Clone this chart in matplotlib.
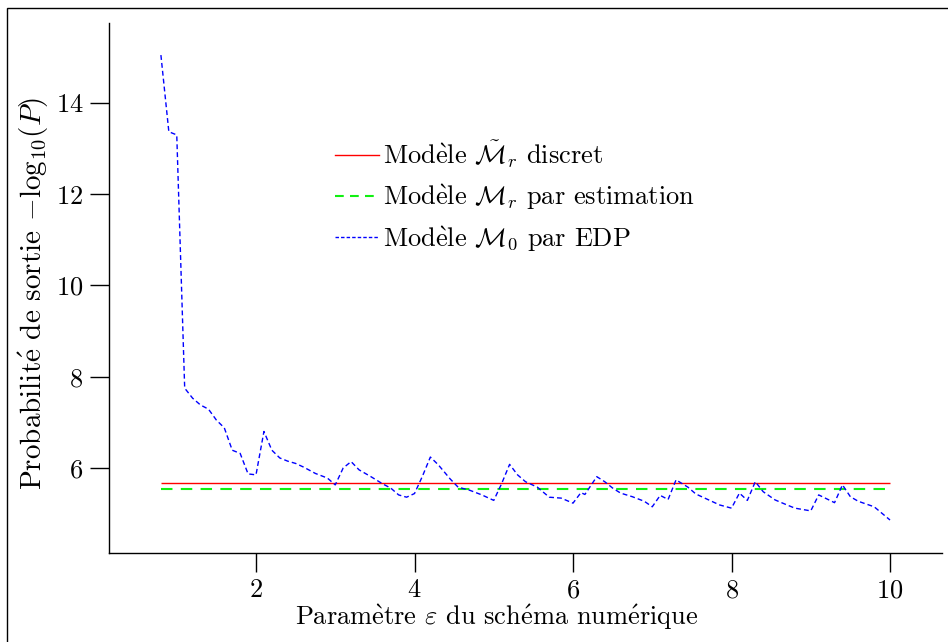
import matplotlib
matplotlib.use("Agg")
import matplotlib.pyplot as plt
from matplotlib.lines import Line2D
from matplotlib.patches import Rectangle

plt.rcParams['mathtext.fontset'] = 'cm'
plt.rcParams['font.family'] = ['cmr10', 'DejaVu Serif']
plt.rcParams['axes.formatter.use_mathtext'] = True

# Data
eps = [0.8, 0.9, 1.0, 1.1, 1.2, 1.3, 1.4, 1.5, 1.6, 1.7, 1.8, 1.9, 2.0, 2.1, 2.2,
       2.3, 2.4, 2.5, 2.6, 2.75, 2.9, 3.0, 3.1, 3.2, 3.3, 3.45, 3.6, 3.7, 3.8, 3.9,
       4.0, 4.1, 4.2, 4.3, 4.45, 4.55, 4.7, 4.85, 5.0, 5.1, 5.2, 5.3, 5.4, 5.55,
       5.7, 5.85, 6.0, 6.1, 6.15, 6.3, 6.4, 6.5, 6.6, 6.75, 6.9, 7.0, 7.1, 7.2,
       7.3, 7.45, 7.55, 7.7, 7.85, 8.0, 8.1, 8.2, 8.3, 8.4, 8.55, 8.7, 8.8, 9.0,
       9.1, 9.3, 9.4, 9.5, 9.6, 9.8, 10.0]
edp = [15.05, 13.37, 13.30, 7.75, 7.53, 7.38, 7.29, 7.05, 6.88, 6.39, 6.32, 5.87,
       5.85, 6.80, 6.39, 6.22, 6.15, 6.10, 6.02, 5.88, 5.78, 5.63, 6.00, 6.14,
       5.96, 5.81, 5.65, 5.56, 5.41, 5.36, 5.44, 5.82, 6.24, 6.07, 5.76, 5.58,
       5.51, 5.41, 5.29, 5.66, 6.08, 5.85, 5.70, 5.58, 5.36, 5.34, 5.23, 5.46,
       5.42, 5.81, 5.70, 5.56, 5.45, 5.37, 5.27, 5.15, 5.40, 5.31, 5.74, 5.58,
       5.43, 5.31, 5.19, 5.12, 5.45, 5.29, 5.70, 5.48, 5.30, 5.19, 5.12, 5.06,
       5.41, 5.24, 5.63, 5.37, 5.27, 5.15, 4.86]
eps_range = [0.8, 10.0]
discret = 5.67
estimation = 5.55
xticks = [2, 4, 6, 8, 10]
yticks = [6, 8, 10, 12, 14]

EGRAVE = r'$\grave{\mathrm{e}}$'
EACUTE = r'$\acute{\mathrm{e}}$'

W, H = 948, 642
FS = 19
RED, GREEN, BLUE = '#ff0000', '#11f011', '#0000ff'
fig = plt.figure(figsize=(W / 100, H / 100), dpi=100)
ax = fig.add_axes([109 / W, 1 - 553 / H, (942 - 109) / W, (553 - 23) / H])

ax.plot(eps_range, [discret, discret], color=RED, lw=1.0, solid_capstyle='butt')
ax.plot(eps_range, [estimation, estimation], color=GREEN, lw=1.5, dashes=(5.5, 4))
ax.plot(eps, edp, color=BLUE, lw=1.0, dashes=(3.5, 2.2))

ax.set_xlim(0.145, 10.656)
ax.set_ylim(4.137, 15.753)
ax.set_xticks(xticks)
ax.set_yticks(yticks)
ax.spines['top'].set_visible(False)
ax.spines['right'].set_visible(False)
for s in ('left', 'bottom'):
    ax.spines[s].set_linewidth(1.0)
ax.tick_params(direction='out', length=13.5, width=1.0, labelsize=FS, pad=5)

ax.set_xlabel('Param' + EGRAVE + r'tre $\varepsilon$ du sch' + EACUTE + 'ma num' + EACUTE + 'rique',
              fontsize=FS)
ax.xaxis.set_label_coords((497 - 109) / (942 - 109), -50 / 530)
ax.set_ylabel('Probabilit' + EACUTE + r' de sortie $-\mathrm{log}_{10}(P)$', fontsize=FS + 2)
ax.yaxis.set_label_coords(-58 / 833, 0.49)

handles = [
    Line2D([], [], color=RED, lw=1.0),
    Line2D([], [], color=GREEN, lw=1.5, dashes=(4.2, 3)),
    Line2D([], [], color=BLUE, lw=1.0, dashes=(2.5, 1.5)),
]
labels = ['Mod' + EGRAVE + r'le $\tilde{\mathcal{M}}_r$ discret',
          'Mod' + EGRAVE + r'le $\mathcal{M}_r$ par estimation',
          'Mod' + EGRAVE + r'le $\mathcal{M}_0$ par EDP']
leg = ax.legend(handles, labels, loc='upper left',
                bbox_to_anchor=((324 - 109) / 833, 1 - (128 - 23) / 530),
                frameon=False, fontsize=FS, handlelength=1.7, handletextpad=0.12,
                labelspacing=0.47, borderaxespad=0)

fig.patches.append(Rectangle((7 / W, -0.1), 1.2, 1 - 8 / H + 0.1, transform=fig.transFigure,
                             fill=False, edgecolor='black', lw=1.0))

fig.savefig('out.png', dpi=100)
